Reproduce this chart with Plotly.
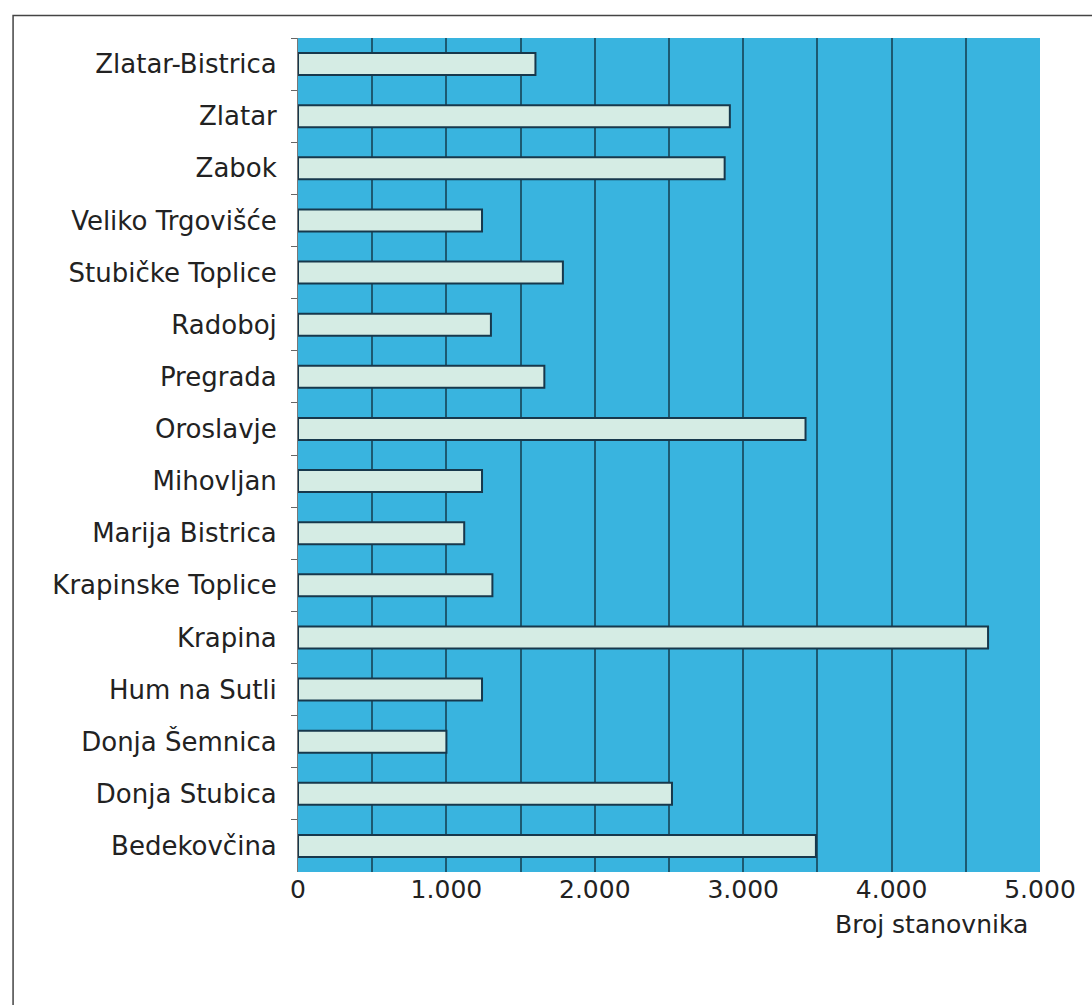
import plotly.graph_objects as go

# Municipalities, listed top to bottom as drawn
municipalities = [
    "Zlatar-Bistrica", "Zlatar", "Zabok", "Veliko Trgovišće",
    "Stubičke Toplice", "Radoboj", "Pregrada", "Oroslavje",
    "Mihovljan", "Marija Bistrica", "Krapinske Toplice", "Krapina",
    "Hum na Sutli", "Donja Šemnica", "Donja Stubica", "Bedekovčina",
]
# Number of inhabitants per municipality
population = [
    1600, 2910, 2875, 1240,
    1785, 1300, 1660, 3420,
    1240, 1120, 1310, 4650,
    1240, 1000, 2520, 3490,
]
x_tick_values = [0, 1000, 2000, 3000, 4000, 5000]
x_tick_labels = ["0", "1.000", "2.000", "3.000", "4.000", "5.000"]
axis_title = "Broj stanovnika"

FONT = "DejaVu Sans"
TEXT = "#222222"

fig = go.Figure(
    go.Bar(
        x=population,
        y=municipalities,
        orientation="h",
        marker=dict(color="#d5ece4", line=dict(color="#17384c", width=2)),
        hoverinfo="x+y",
    )
)

fig.update_layout(
    width=1092,
    height=1005,
    margin=dict(l=298, r=52, t=38, b=133),
    paper_bgcolor="white",
    plot_bgcolor="#39b4df",
    bargap=0.58,
    showlegend=False,
    font=dict(family=FONT, size=25, color=TEXT),
)

fig.update_xaxes(
    range=[0, 5000],
    tickvals=x_tick_values,
    ticktext=x_tick_labels,
    ticks="",
    showgrid=False,
    zeroline=False,
    showline=False,
    tickfont=dict(family=FONT, size=25, color=TEXT),
    minor=dict(
        tickvals=list(range(500, 5000, 500)),
        showgrid=True,
        gridcolor="#1c5a72",
        gridwidth=1.5,
        ticks="",
    ),
)

fig.update_yaxes(
    autorange="reversed",
    ticks="outside",
    tickson="boundaries",
    ticklen=6,
    tickcolor="#666666",
    showline=True,
    linecolor="#777777",
    linewidth=1,
    showgrid=False,
    ticklabelstandoff=15,
    tickfont=dict(family=FONT, size=26, color=TEXT),
)

fig.add_annotation(
    text=axis_title,
    xref="paper", yref="paper",
    x=0.854, y=-0.063,
    xanchor="center", yanchor="middle",
    showarrow=False,
    font=dict(family=FONT, size=25, color=TEXT),
)

# Outer frame around the whole chart
fig.add_shape(
    type="rect",
    xref="paper", yref="paper",
    x0=-0.384, x1=1.2, y0=-0.3, y1=1.027,
    line=dict(color="#444444", width=1.5),
    layer="below",
)

fig.write_html("out.html")
